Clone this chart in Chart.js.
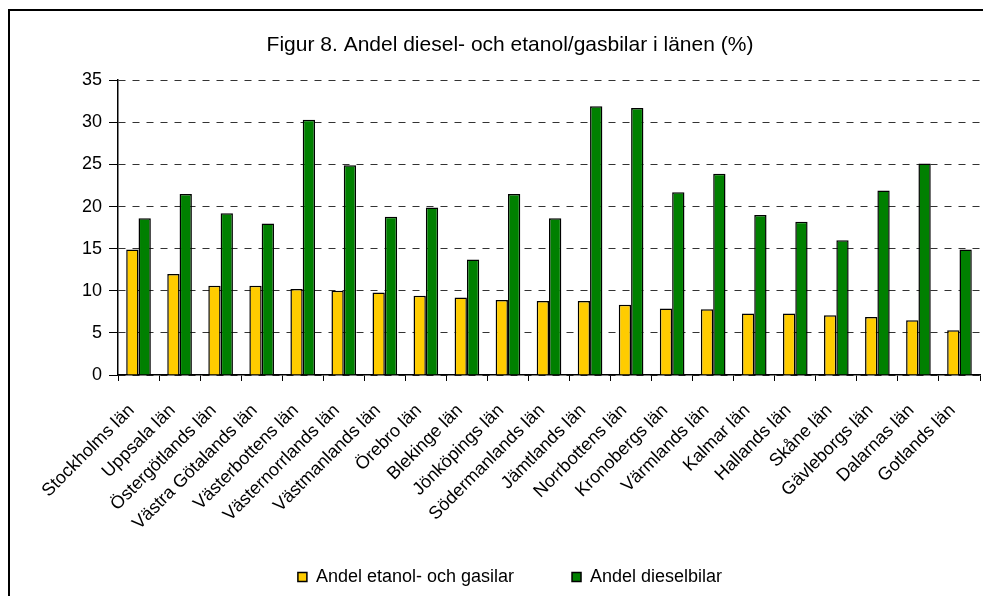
<!DOCTYPE html>
<html>
<head>
<meta charset="utf-8">
<script src="https://cdn.jsdelivr.net/npm/chart.js@4.4.0/dist/chart.umd.min.js"></script>
<style>
    html, body { margin: 0; padding: 0; background: #fff; overflow: hidden; }
    #frame { position: absolute; left: 8px; top: 9px; width: 2000px; height: 2000px; border: 2px solid #000; }
    #wrap { position: absolute; left: 0; top: 0; }
</style>
</head>
<body>
<div id="frame"></div>
<div id="wrap"><canvas id="chart" width="983" height="596"></canvas></div>
<script>
// Data
const counties = [
    'Stockholms län', 'Uppsala län', 'Östergötlands län', 'Västra Götalands län',
    'Västerbottens län', 'Västernorrlands län', 'Västmanlands län', 'Örebro län',
    'Blekinge län', 'Jönköpings län', 'Södermanlands län', 'Jämtlands län',
    'Norrbottens län', 'Kronobergs län', 'Värmlands län', 'Kalmar län',
    'Hallands län', 'Skåne län', 'Gävleborgs län', 'Dalarnas län', 'Gotlands län'
];
const ethanolGas = [14.9, 12.0, 10.6, 10.6, 10.2, 10.0, 9.8, 9.4, 9.2, 8.9, 8.8, 8.8, 8.35, 7.9, 7.8, 7.3, 7.3, 7.1, 6.9, 6.5, 5.3];
const diesel = [18.6, 21.5, 19.2, 18.0, 30.3, 24.9, 18.8, 19.9, 13.7, 21.5, 18.6, 31.9, 31.7, 21.7, 23.9, 19.0, 18.2, 16.0, 21.9, 25.1, 14.9];
const yMin = 0;
const yMax = 35;
const yStep = 5;

const seriesNames = ['Andel etanol- och gasilar', 'Andel dieselbilar'];
const titleText = 'Figur 8. Andel diesel- och etanol/gasbilar i länen (%)';

const font = 'Liberation Sans, Arial, sans-serif';

// Rotated county names hang below the x-axis box, so let them draw down to the canvas edge
const labelRoom = {
    id: 'labelRoom',
    afterLayout(chart) {
        chart.scales.x.bottom = chart.height;
    }
};

const ctx = document.getElementById('chart').getContext('2d');
const chart = new Chart(ctx, {
    type: 'bar',
    data: {
        labels: counties,
        datasets: [
            {
                label: seriesNames[0],
                data: ethanolGas,
                backgroundColor: '#FFCC00',
                borderColor: '#000',
                borderWidth: 1.5,
                categoryPercentage: 0.6,
                barPercentage: 1
            },
            {
                label: seriesNames[1],
                data: diesel,
                backgroundColor: '#008000',
                borderColor: '#000',
                borderWidth: 1.5,
                categoryPercentage: 0.6,
                barPercentage: 1
            }
        ]
    },
    options: {
        responsive: false,
        animation: false,
        devicePixelRatio: 1,
        layout: {
            padding: { left: 40, right: 3, top: 33, bottom: 0 }
        },
        plugins: {
            title: {
                display: true,
                text: titleText,
                color: '#000',
                font: { family: font, size: 21, weight: 'normal' },
                padding: { top: 0, bottom: 22 }
            },
            legend: {
                position: 'bottom',
                labels: {
                    color: '#000',
                    font: { family: font, size: 18 },
                    boxWidth: 9,
                    boxHeight: 9,
                    padding: 58
                }
            },
            tooltip: { enabled: false }
        },
        scales: {
            x: {
                offset: true,
                grid: {
                    display: true,
                    drawOnChartArea: false,
                    drawTicks: true,
                    tickLength: 6,
                    color: '#000'
                },
                border: { display: true, color: '#000', width: 1.5 },
                ticks: {
                    autoSkip: false,
                    maxRotation: 45,
                    minRotation: 45,
                    padding: 19,
                    labelOffset: -7,
                    color: '#000',
                    font: { family: font, size: 18 }
                },
                afterFit: scale => {
                    scale.height = 135;
                    scale.paddingLeft = 0;
                    scale.paddingRight = 0;
                }
            },
            y: {
                min: yMin,
                max: yMax,
                ticks: {
                    stepSize: yStep,
                    color: '#000',
                    padding: 7,
                    font: { family: font, size: 18 }
                },
                grid: {
                    color: '#333',
                    lineWidth: 1,
                    tickBorderDash: [],
                    tickColor: '#000',
                    tickLength: 9
                },
                border: { display: true, color: '#000', width: 1.5, dash: [7, 7] },
                afterFit: scale => { scale.width = 78; }
            }
        }
    },
    plugins: [labelRoom]
});
</script>
</body>
</html>
